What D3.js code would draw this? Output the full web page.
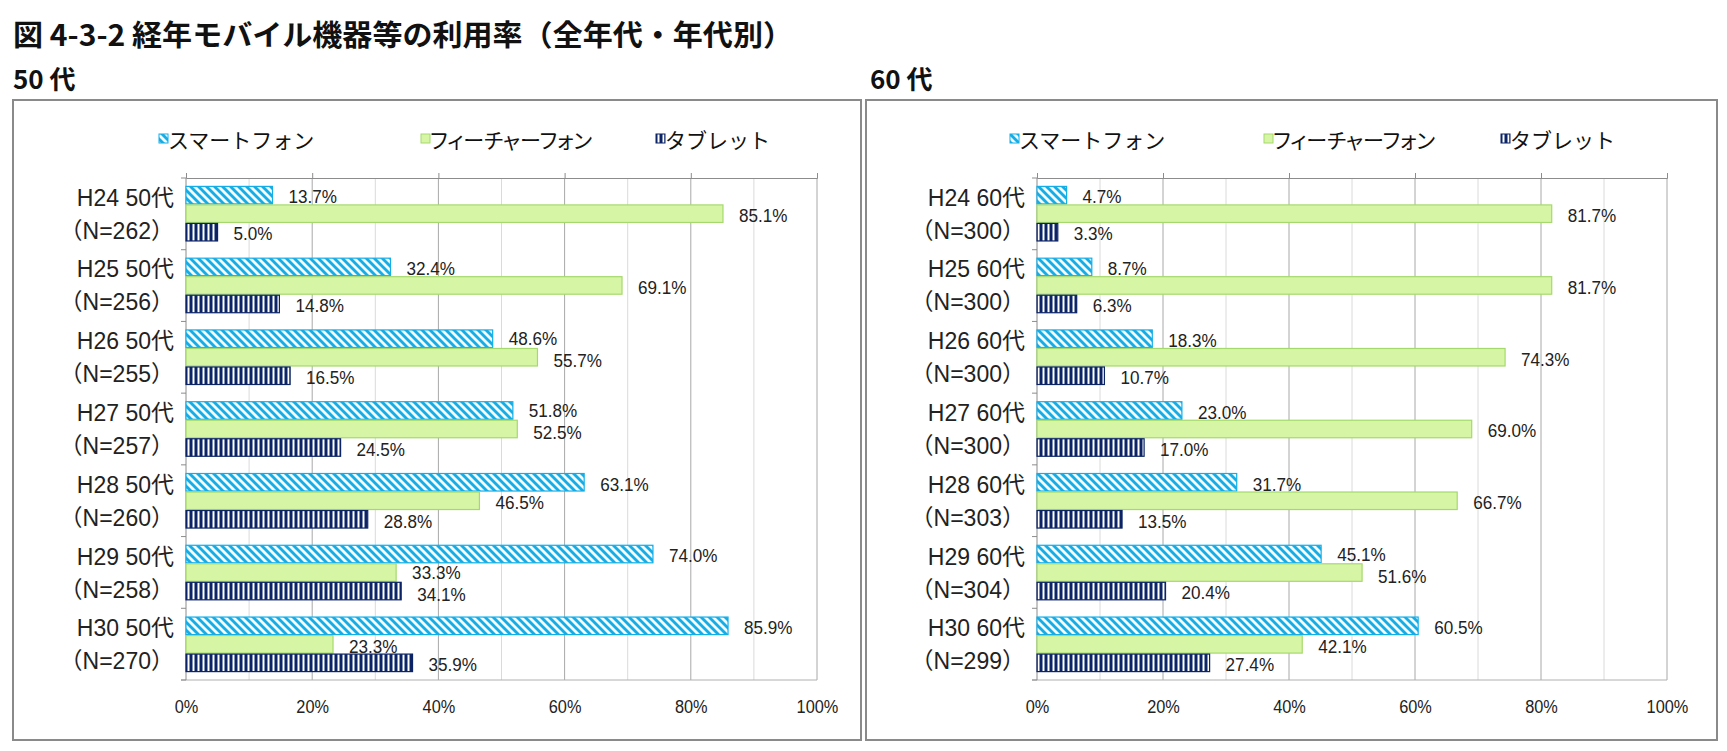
<!DOCTYPE html>
<html><head><meta charset="utf-8">
<script src="https://cdn.jsdelivr.net/npm/d3@7"></script>
<style>body{margin:0;background:#fff}</style>
</head><body>
<svg id="c" width="1727" height="751"></svg>
<script>
// ---- data ----
const titleText = "図 4-3-2 経年モバイル機器等の利用率（全年代・年代別）";
const years = ["H24","H25","H26","H27","H28","H29","H30"];
const seriesNames = ["スマートフォン","フィーチャーフォン","タブレット"];
const n50 = [262,256,255,257,260,258,270];
const smart50 = [13.7,32.4,48.6,51.8,63.1,74.0,85.9];
const feature50 = [85.1,69.1,55.7,52.5,46.5,33.3,23.3];
const tablet50 = [5.0,14.8,16.5,24.5,28.8,34.1,35.9];
const n60 = [300,300,300,300,303,304,299];
const smart60 = [4.7,8.7,18.3,23.0,31.7,45.1,60.5];
const feature60 = [81.7,81.7,74.3,69.0,66.7,51.6,42.1];
const tablet60 = [3.3,6.3,10.7,17.0,13.5,20.4,27.4];
const xTicks = [0,20,40,60,80,100];
const gridVals = [10,20,30,40,50,60,70,80,90,100];

// ---- layout ----
const panels = [
  {age:"50代", heading:"50 代", vals:[smart50,feature50,tablet50], n:n50,
   box:{x:13,y:100,w:848,h:640}, hx:13, xr:[186,817], leg:[159,421,656]},
  {age:"60代", heading:"60 代", vals:[smart60,feature60,tablet60], n:n60,
   box:{x:866,y:100,w:851,h:640}, hx:870, xr:[1037,1667], leg:[1010,1264,1501]}
];
const plotTop = 178, plotBot = 680;
const latin = "'Liberation Sans','Noto Sans CJK JP',sans-serif";
const cjk = "'Noto Sans CJK JP',sans-serif";
const legendPalt = [false,true,false];

const svg = d3.select("#c");
const defs = svg.append("defs");
// smartphone pattern: blue with white downward diagonals
const p1 = defs.append("pattern").attr("id","pSmart").attr("patternUnits","userSpaceOnUse")
  .attr("width",8).attr("height",8);
p1.append("rect").attr("width",8).attr("height",8).attr("fill","#12aee8");
p1.append("path").attr("d","M-2,6L2,10M0,0L8,8M6,-2L10,2").attr("stroke","#fff").attr("stroke-width",2.8);
// tablet pattern: navy with white vertical stripes
const p3 = defs.append("pattern").attr("id","pTab").attr("patternUnits","userSpaceOnUse")
  .attr("width",5).attr("height",5);
p3.append("rect").attr("width",5).attr("height",5).attr("fill","#0c2466");
p3.append("rect").attr("x",2.5).attr("width",2).attr("height",5).attr("fill","#fff");

const fills = ["url(#pSmart)","#d6f6a6","url(#pTab)"];
const strokes = ["#12aee8","#a5d96d","#0c2466"];

function narrowText(parent, x, y, txt, size, sx, anchor){
  return parent.append("text")
    .attr("transform",`translate(${x},${y}) scale(${sx},1)`)
    .attr("text-anchor",anchor||"start").attr("dominant-baseline","central")
    .attr("font-family",latin).attr("font-size",size).attr("fill","#222").text(txt);
}

// title
svg.append("text").attr("x",13).attr("y",46).attr("font-family",cjk).attr("font-weight",700)
  .attr("font-size",29).attr("fill","#111").attr("textLength",780).attr("lengthAdjust","spacingAndGlyphs")
  .text(titleText);

panels.forEach(P => {
  svg.append("text").attr("x",P.hx).attr("y",89).attr("font-family",cjk).attr("font-weight",700)
    .attr("font-size",26).attr("fill","#111").text(P.heading);
  svg.append("rect").attr("x",P.box.x).attr("y",P.box.y).attr("width",P.box.w).attr("height",P.box.h)
    .attr("fill","#fff").attr("stroke","#8a8a8a").attr("stroke-width",2);

  const g = svg.append("g");
  const x = d3.scaleLinear().domain([0,100]).range(P.xr);
  const cats = years.map(y => y + " " + P.age);
  const y = d3.scaleBand().domain(cats).range([plotTop,plotBot]).paddingInner(0.226).paddingOuter(0.11);
  const yi = d3.scaleBand().domain(seriesNames).range([0,y.bandwidth()]);

  // gridlines
  g.selectAll(".grid").data(gridVals).join("line")
    .attr("x1",d=>x(d)).attr("x2",d=>x(d)).attr("y1",plotTop).attr("y2",plotBot)
    .attr("stroke",d=>d%20===0?"#a8a8a8":"#dadada").attr("stroke-width",1);
  // bottom line
  g.append("line").attr("x1",x(0)-5).attr("x2",x(100)).attr("y1",plotBot).attr("y2",plotBot)
    .attr("stroke","#b0b0b0");
  // top axis with ticks
  const ta = g.append("g").attr("transform",`translate(0,${plotTop})`)
    .call(d3.axisTop(x).tickValues(xTicks).tickSize(5).tickFormat(""));
  ta.selectAll("path,line").attr("stroke","#8c8c8c");
  // bottom tick labels
  const ba = g.append("g").attr("transform",`translate(0,${plotBot})`)
    .call(d3.axisBottom(x).tickValues(xTicks).tickSize(0).tickPadding(20).tickFormat(d=>d+"%"));
  ba.select(".domain").remove();
  ba.selectAll("text").attr("font-family",latin).attr("font-size",19).attr("fill","#222")
    .attr("transform","scale(0.86,1)");

  // left axis with ticks at band boundaries
  g.append("line").attr("x1",x(0)).attr("x2",x(0)).attr("y1",plotTop).attr("y2",plotBot).attr("stroke","#8c8c8c");
  const step = (plotBot-plotTop)/cats.length;
  g.selectAll(".lt").data(d3.range(cats.length+1)).join("line")
    .attr("x1",x(0)-5).attr("x2",x(0)).attr("y1",i=>plotTop+i*step).attr("y2",i=>plotTop+i*step)
    .attr("stroke","#8c8c8c");

  // bars
  seriesNames.forEach((s,si) => {
    const vals = P.vals[si];
    g.selectAll(".b"+si).data(cats).join("rect")
      .attr("x",x(0)).attr("y",(c)=>y(c)+yi(s)+0.5)
      .attr("width",(c,i)=>x(vals[i])-x(0)).attr("height",yi.bandwidth()-1)
      .attr("fill",fills[si]).attr("stroke",strokes[si]).attr("stroke-width",1.2);
  });

  // data labels, with a small vertical nudge when neighbouring labels would collide
  cats.forEach((c,i) => {
    const v = P.vals.map(a => a[i]);
    const lx = v.map(d => x(d)+16);
    const ly = seriesNames.map(s => y(c)+yi(s)+yi.bandwidth()/2+2);
    for (let k=0;k<2;k++){
      if (Math.abs(lx[k]-lx[k+1]) < 50){ ly[k]-=1.8; ly[k+1]+=1.8; }
    }
    v.forEach((d,si) => narrowText(g, lx[si], ly[si], d.toFixed(1)+"%", 19, 0.9));
  });

  // category labels
  cats.forEach((c,i) => {
    const cy = y(c)+y.bandwidth()/2;
    narrowText(g, x(0)-12, cy-16, c, 23, 1, "end");
    narrowText(g, x(0)-12, cy+17, "（N="+P.n[i]+"）", 23, 1, "end");
  });

  // legend
  seriesNames.forEach((s,si) => {
    const lx = P.leg[si];
    g.append("rect").attr("x",lx).attr("y",134).attr("width",9).attr("height",9)
      .attr("fill",fills[si]).attr("stroke",strokes[si]).attr("stroke-width",1);
    g.append("text").attr("x",lx+9).attr("y",139).attr("dominant-baseline","central")
      .attr("font-family",cjk).attr("font-size",21).attr("fill","#111")
      .style("font-feature-settings",legendPalt[si]?"'palt'":"normal").text(s);
  });
});
</script>
</body></html>
